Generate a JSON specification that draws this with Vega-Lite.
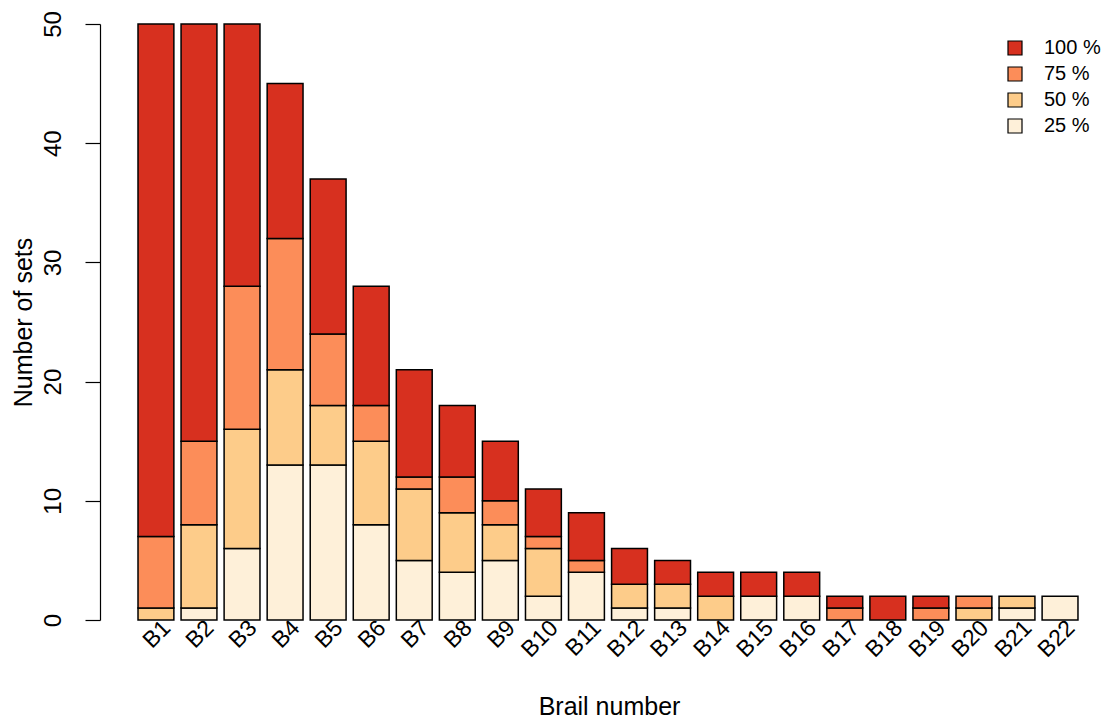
{
  "$schema": "https://vega.github.io/schema/vega-lite/v6.json",
  "width": 985,
  "height": 596,
  "autosize": "none",
  "padding": {"left": 100, "top": 24, "right": 26, "bottom": 104},
  "background": "white",
  "config": {
    "view": {"stroke": null},
    "font": "Liberation Sans",
    "axis": {"labelFont": "Liberation Sans", "titleFont": "Liberation Sans", "labelColor": "black", "titleColor": "black", "titleFontWeight": "normal", "grid": false},
    "legend": {"labelFont": "Liberation Sans", "labelColor": "black"}
  },
  "data": {
    "values": [
      {"brail": "B1", "level": "50 %", "ord": 2, "n": 1},
      {"brail": "B1", "level": "75 %", "ord": 3, "n": 6},
      {"brail": "B1", "level": "100 %", "ord": 4, "n": 43},
      {"brail": "B2", "level": "25 %", "ord": 1, "n": 1},
      {"brail": "B2", "level": "50 %", "ord": 2, "n": 7},
      {"brail": "B2", "level": "75 %", "ord": 3, "n": 7},
      {"brail": "B2", "level": "100 %", "ord": 4, "n": 35},
      {"brail": "B3", "level": "25 %", "ord": 1, "n": 6},
      {"brail": "B3", "level": "50 %", "ord": 2, "n": 10},
      {"brail": "B3", "level": "75 %", "ord": 3, "n": 12},
      {"brail": "B3", "level": "100 %", "ord": 4, "n": 22},
      {"brail": "B4", "level": "25 %", "ord": 1, "n": 13},
      {"brail": "B4", "level": "50 %", "ord": 2, "n": 8},
      {"brail": "B4", "level": "75 %", "ord": 3, "n": 11},
      {"brail": "B4", "level": "100 %", "ord": 4, "n": 13},
      {"brail": "B5", "level": "25 %", "ord": 1, "n": 13},
      {"brail": "B5", "level": "50 %", "ord": 2, "n": 5},
      {"brail": "B5", "level": "75 %", "ord": 3, "n": 6},
      {"brail": "B5", "level": "100 %", "ord": 4, "n": 13},
      {"brail": "B6", "level": "25 %", "ord": 1, "n": 8},
      {"brail": "B6", "level": "50 %", "ord": 2, "n": 7},
      {"brail": "B6", "level": "75 %", "ord": 3, "n": 3},
      {"brail": "B6", "level": "100 %", "ord": 4, "n": 10},
      {"brail": "B7", "level": "25 %", "ord": 1, "n": 5},
      {"brail": "B7", "level": "50 %", "ord": 2, "n": 6},
      {"brail": "B7", "level": "75 %", "ord": 3, "n": 1},
      {"brail": "B7", "level": "100 %", "ord": 4, "n": 9},
      {"brail": "B8", "level": "25 %", "ord": 1, "n": 4},
      {"brail": "B8", "level": "50 %", "ord": 2, "n": 5},
      {"brail": "B8", "level": "75 %", "ord": 3, "n": 3},
      {"brail": "B8", "level": "100 %", "ord": 4, "n": 6},
      {"brail": "B9", "level": "25 %", "ord": 1, "n": 5},
      {"brail": "B9", "level": "50 %", "ord": 2, "n": 3},
      {"brail": "B9", "level": "75 %", "ord": 3, "n": 2},
      {"brail": "B9", "level": "100 %", "ord": 4, "n": 5},
      {"brail": "B10", "level": "25 %", "ord": 1, "n": 2},
      {"brail": "B10", "level": "50 %", "ord": 2, "n": 4},
      {"brail": "B10", "level": "75 %", "ord": 3, "n": 1},
      {"brail": "B10", "level": "100 %", "ord": 4, "n": 4},
      {"brail": "B11", "level": "25 %", "ord": 1, "n": 4},
      {"brail": "B11", "level": "75 %", "ord": 3, "n": 1},
      {"brail": "B11", "level": "100 %", "ord": 4, "n": 4},
      {"brail": "B12", "level": "25 %", "ord": 1, "n": 1},
      {"brail": "B12", "level": "50 %", "ord": 2, "n": 2},
      {"brail": "B12", "level": "100 %", "ord": 4, "n": 3},
      {"brail": "B13", "level": "25 %", "ord": 1, "n": 1},
      {"brail": "B13", "level": "50 %", "ord": 2, "n": 2},
      {"brail": "B13", "level": "100 %", "ord": 4, "n": 2},
      {"brail": "B14", "level": "50 %", "ord": 2, "n": 2},
      {"brail": "B14", "level": "100 %", "ord": 4, "n": 2},
      {"brail": "B15", "level": "25 %", "ord": 1, "n": 2},
      {"brail": "B15", "level": "100 %", "ord": 4, "n": 2},
      {"brail": "B16", "level": "25 %", "ord": 1, "n": 2},
      {"brail": "B16", "level": "100 %", "ord": 4, "n": 2},
      {"brail": "B17", "level": "75 %", "ord": 3, "n": 1},
      {"brail": "B17", "level": "100 %", "ord": 4, "n": 1},
      {"brail": "B18", "level": "100 %", "ord": 4, "n": 2},
      {"brail": "B19", "level": "75 %", "ord": 3, "n": 1},
      {"brail": "B19", "level": "100 %", "ord": 4, "n": 1},
      {"brail": "B20", "level": "50 %", "ord": 2, "n": 1},
      {"brail": "B20", "level": "75 %", "ord": 3, "n": 1},
      {"brail": "B21", "level": "25 %", "ord": 1, "n": 1},
      {"brail": "B21", "level": "50 %", "ord": 2, "n": 1},
      {"brail": "B22", "level": "25 %", "ord": 1, "n": 2}
    ]
  },
  "mark": {"type": "bar", "stroke": "black", "strokeWidth": 1.5},
  "encoding": {
    "x": {
      "field": "brail", "type": "nominal", "sort": null,
      "scale": {"paddingInner": 0.167, "paddingOuter": 0.523, "align": 0.844},
      "axis": {"title": "Brail number", "titleFontSize": 25, "titleX": 509, "titleAlign": "center", "titleY": 74, "titleBaseline": "top", "labelAngle": -45, "labelAlign": "right", "labelBaseline": "middle", "labelFontSize": 23, "labelPadding": 4, "labelOffset": 11, "domain": false, "ticks": false}
    },
    "y": {
      "field": "n", "type": "quantitative", "stack": "zero",
      "scale": {"domain": [0, 50], "nice": false},
      "axis": {"title": "Number of sets", "titleFontSize": 25, "titleX": -64, "values": [0, 10, 20, 30, 40, 50], "labelAngle": -90, "labelAlign": "center", "labelBaseline": "bottom", "labelFontSize": 24, "labelPadding": 20, "tickSize": 15, "tickColor": "black", "domainColor": "black", "tickWidth": 1.2, "domainWidth": 1.2}
    },
    "color": {
      "field": "level", "type": "nominal",
      "scale": {"domain": ["100 %", "75 %", "50 %", "25 %"], "range": ["#D7301F", "#FC8D59", "#FDCC8A", "#FEF0D9"]},
      "legend": {"title": null, "orient": "none", "legendX": 905, "legendY": 14, "symbolType": "square", "symbolSize": 196, "symbolStrokeColor": "black", "symbolStrokeWidth": 1.2, "symbolOpacity": 1, "labelFontSize": 20, "labelOffset": 19, "rowPadding": 6}
    },
    "order": {"field": "ord", "type": "quantitative"}
  }
}
